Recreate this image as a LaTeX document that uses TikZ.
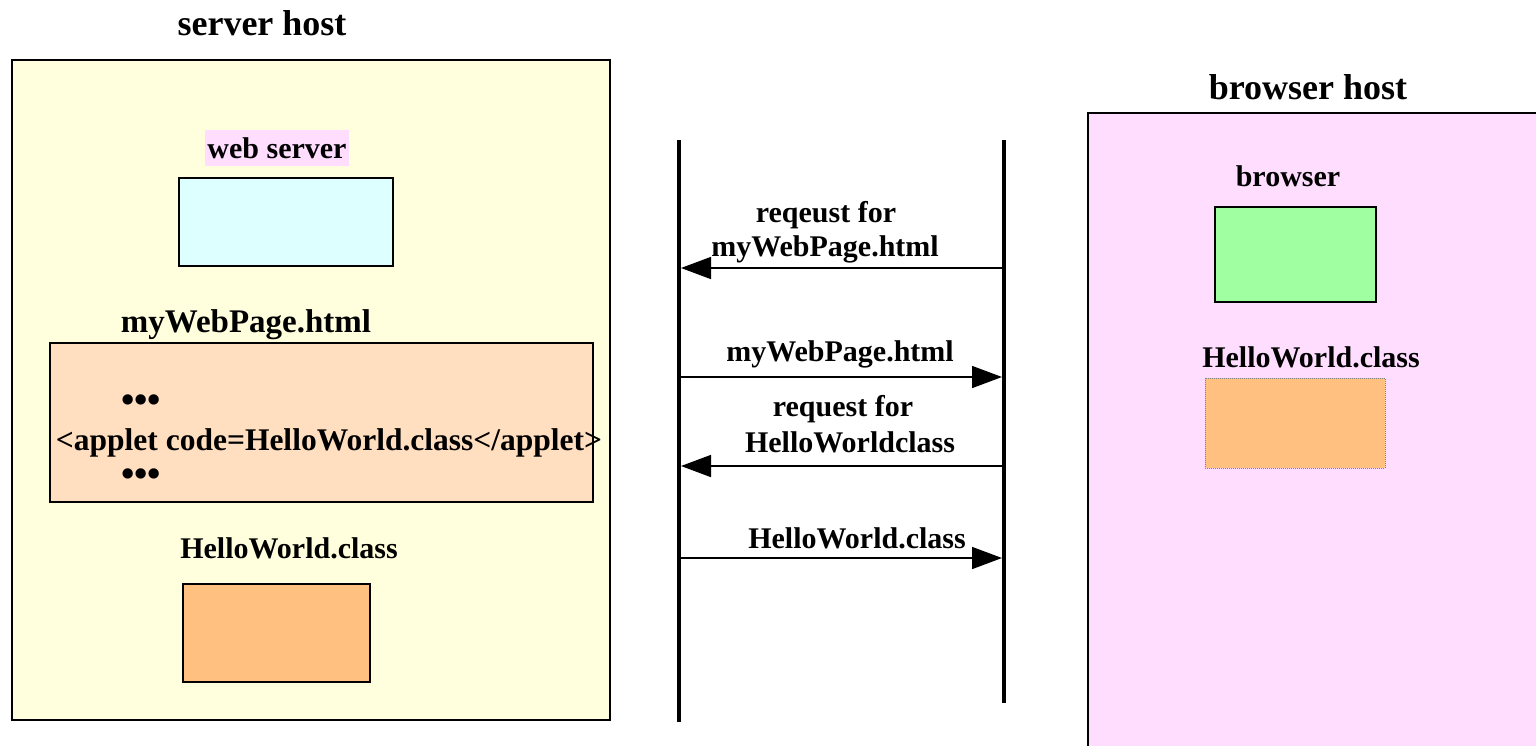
\documentclass[tikz,border=0pt]{standalone}
\usepackage{fontspec}
\setmainfont{Liberation Serif}
\usetikzlibrary{arrows.meta}
\definecolor{hostyellow}{RGB}{255,255,221}
\definecolor{hostpink}{RGB}{255,221,255}
\definecolor{wscyan}{RGB}{221,255,255}
\definecolor{pagepeach}{RGB}{255,223,191}
\definecolor{classorange}{RGB}{255,192,128}
\definecolor{browsergreen}{RGB}{160,255,160}
\begin{document}
\begin{tikzpicture}[x=1pt,y=-1pt,
  lbl/.style={font=\fontsize{30}{34}\selectfont\bfseries, inner sep=0pt, anchor=base},
  ttl/.style={font=\fontsize{36}{40}\selectfont\bfseries, inner sep=0pt, anchor=base},
  hostbox/.style={draw=black, line width=2.8pt, inner sep=0pt},
  inbox/.style={draw=black, line width=2.4pt, inner sep=0pt},
  life/.style={line width=4pt},
  msg/.style={line width=1.6pt, -{Triangle[length=30pt,width=22pt]}},
]
\useasboundingbox (0,0) rectangle (1536,745);
\fill[white] (0,0) rectangle (1536,745);

% ---------------- server host ----------------
\node[ttl] (servertitle) at (262,35) {server host};
\node[hostbox, fill=hostyellow, minimum width=598pt, minimum height=660pt] (server) at (311,390) {};

\node[font=\fontsize{30}{34}\selectfont\bfseries, fill=hostpink, inner xsep=2pt, inner ysep=0pt,
      minimum height=36pt] (wslabel) at (277,148) {web server};
\node[inbox, fill=wscyan, minimum width=214pt, minimum height=88pt] (ws) at (286,222) {};

\node[lbl, font=\fontsize{33}{36}\selectfont\bfseries] (pagelabel) at (246,332) {myWebPage.html};
\node[inbox, fill=pagepeach, minimum width=543pt, minimum height=159pt] (page) at (321.5,422.5) {};
\node[lbl, font=\fontsize{38}{40}\selectfont\bfseries] (dots1) at (141,412) {•••};
\node[lbl, font=\fontsize{31.5}{34}\selectfont\bfseries] (applet) at (329,450) {<applet code=HelloWorld.class</applet>};
\node[lbl, font=\fontsize{38}{40}\selectfont\bfseries] (dots2) at (141,486) {•••};

\node[lbl] (hwlabel) at (289,558) {HelloWorld.class};
\node[inbox, fill=classorange, minimum width=187pt, minimum height=98pt] (hw) at (276.5,633) {};

% ---------------- lifelines and messages ----------------
\coordinate (Ltop) at (679,140);
\coordinate (Lbot) at (679,722);
\coordinate (Rtop) at (1004,140);
\coordinate (Rbot) at (1004,703);
\draw[life] (Ltop) -- (Lbot);
\draw[life] (Rtop) -- (Rbot);

\coordinate (m1r) at (1004,268); \coordinate (m1l) at (681,268);
\coordinate (m2l) at (679,377); \coordinate (m2r) at (1002,377);
\coordinate (m3r) at (1004,466); \coordinate (m3l) at (681,466);
\coordinate (m4l) at (679,558); \coordinate (m4r) at (1002,558);

\draw[msg] (m1r) -- (m1l);
\draw[msg] (m2l) -- (m2r);
\draw[msg] (m3r) -- (m3l);
\draw[msg] (m4l) -- (m4r);

\node[lbl] (t1a) at (826,222) {reqeust for};
\node[lbl] (t1b) at (825,256) {myWebPage.html};
\node[lbl] (t2) at (840,361) {myWebPage.html};
\node[lbl] (t3a) at (843,416) {request for};
\node[lbl] (t3b) at (850,452) {HelloWorldclass};
\node[lbl] (t4) at (857,548) {HelloWorld.class};

% ---------------- browser host ----------------
\node[ttl] (browsertitle) at (1308,99) {browser host};
\node[hostbox, fill=hostpink, minimum width=472pt, minimum height=657pt] (bhost) at (1324,441.5) {};

\node[lbl] (blabel) at (1288,186) {browser};
\node[inbox, fill=browsergreen, minimum width=161pt, minimum height=95pt] (browser) at (1295.5,254.5) {};

\node[lbl] (bhwlabel) at (1311,367) {HelloWorld.class};
\node[draw=gray, line width=0.6pt, dash pattern=on 1pt off 1pt, fill=classorange, inner sep=0pt,
      minimum width=180pt, minimum height=90pt] (bhw) at (1295,423) {};
\end{tikzpicture}
\end{document}
